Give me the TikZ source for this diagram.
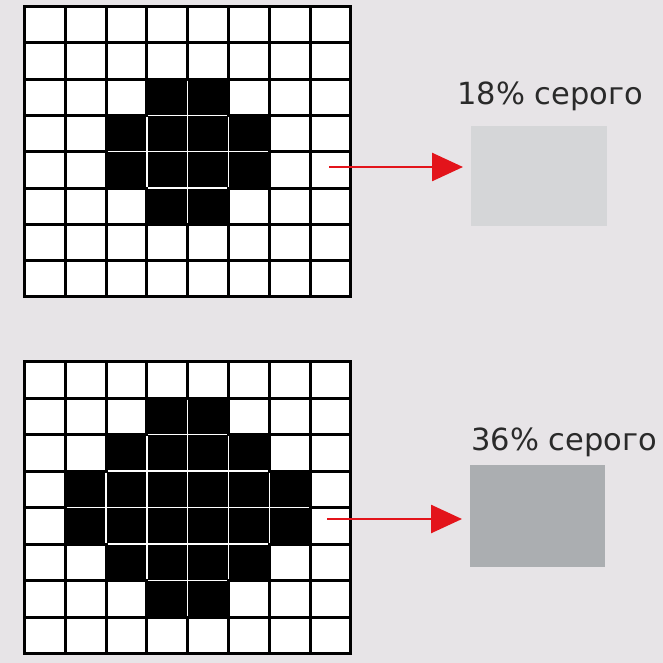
\documentclass[tikz,border=0pt]{standalone}
\usepackage{fontspec}
\setmainfont{DejaVu Sans}
\usetikzlibrary{arrows.meta,positioning}
\definecolor{backdrop}{HTML}{E7E4E7}
\definecolor{arrowred}{HTML}{E3141B}
\definecolor{paleshade}{HTML}{D5D6D8}
\definecolor{darkshade}{HTML}{ABAEB1}
\definecolor{inkgray}{HTML}{2A2A2A}

\begin{document}
\begin{tikzpicture}[x=1pt,y=-1pt,
  gridline/.style={line width=3pt,black,line cap=rect},
  innerline/.style={line width=1.3pt,white,shorten <=1.5pt,shorten >=1.5pt},
  shadebox/.style={minimum width=136pt,minimum height=100pt,inner sep=0pt,anchor=north west},
  pct/.style={font=\fontsize{30.5}{32}\selectfont,text=inkgray,inner sep=0pt,anchor=base west},
  arrow/.style={-{Triangle[length=31pt,width=28pt]},line width=2.6pt,arrowred,shorten >=8pt}]
\fill[backdrop] (0,0) rectangle (663,663);
\useasboundingbox (0,0) rectangle (663,663);

% upper grid: 12 of 64 cells
\begin{scope}[shift={(24.5,6.5)},x=40.8pt,y=-36.3pt]
\fill[white] (0,0) rectangle (8,8);
\foreach \r/\a/\b in {2/3/4,3/2/5,4/2/5,5/3/4}
  \fill (\a,\r) rectangle (\b+1,\r+1);
\foreach \i in {0,...,8} {
  \draw[gridline] (\i,0) -- (\i,8);
  \draw[gridline] (0,\i) -- (8,\i);
}
\foreach \x/\p/\q in {3/3/5,4/2/6,5/3/5}
  \draw[innerline] (\x,\p) -- (\x,\q);
\foreach \y/\p/\q in {3/3/5,4/2/6,5/3/5}
  \draw[innerline] (\p,\y) -- (\q,\y);
\end{scope}

% lower grid: 24 of 64 cells
\begin{scope}[shift={(24.5,361.5)},x=40.8pt,y=-36.5pt]
\fill[white] (0,0) rectangle (8,8);
\foreach \r/\a/\b in {1/3/4,2/2/5,3/1/6,4/1/6,5/2/5,6/3/4}
  \fill (\a,\r) rectangle (\b+1,\r+1);
\foreach \i in {0,...,8} {
  \draw[gridline] (\i,0) -- (\i,8);
  \draw[gridline] (0,\i) -- (8,\i);
}
\foreach \x/\p/\q in {2/3/5,3/2/6,4/1/7,5/2/6,6/3/5}
  \draw[innerline] (\x,\p) -- (\x,\q);
\foreach \y/\p/\q in {2/3/5,3/2/6,4/1/7,5/2/6,6/3/5}
  \draw[innerline] (\p,\y) -- (\q,\y);
\end{scope}

\node[shadebox,fill=paleshade] (lightbox) at (471,126) {};
\node[shadebox,fill=darkshade,minimum width=135pt,minimum height=102pt] (darkbox) at (470,465) {};
\node[pct] (lighttext) at (457,105) {18\% серого};
\node[pct] (darktext) at (471,450) {36\% серого};

\coordinate (lightfrom) at (329,167);
\coordinate (darkfrom) at (327,519);
\draw[arrow] (lightfrom) -- (lightfrom -| lightbox.west);
\draw[arrow] (darkfrom) -- (darkfrom -| darkbox.west);
\end{tikzpicture}
\end{document}
